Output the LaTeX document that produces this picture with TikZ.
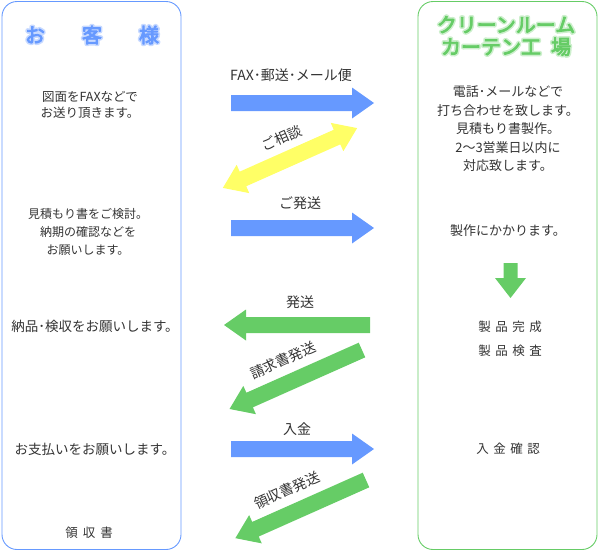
\documentclass[tikz,border=0pt]{standalone}
\usepackage{fontspec}
\setmainfont{Noto Sans CJK JP}
\usetikzlibrary{positioning}
\definecolor{custblue}{HTML}{6699FF}
\definecolor{custglow}{HTML}{C8DAFF}
\definecolor{factgreen}{HTML}{66CC66}
\definecolor{factglow}{HTML}{CDEFCD}
\definecolor{consult}{HTML}{FFFF66}
\definecolor{ink}{HTML}{333333}
% coloured title with a pale glow round the letters
\newcommand{\halotext}[3]{\leavevmode\rlap{\color{#1}\special{pdf:literal direct 2 Tr 4 w 1 j}#3\special{pdf:literal direct 0 Tr}}{\color{#2}\special{pdf:literal direct 2 Tr 0.8 w}#3\special{pdf:literal direct 0 Tr}}}
\tikzset{
  every node/.style={text=ink,font=\fontsize{12.5}{18}\selectfont},
  column/.style={draw,rounded corners=15pt,line width=0.9pt,minimum width=179pt,minimum height=548pt,inner sep=0pt},
  clientcol/.style={column,draw=custblue},
  factcol/.style={column,draw=factgreen},
  title/.style={font=\fontsize{20}{22}\selectfont,align=center,inner sep=0pt},
  txt/.style={align=center,inner sep=0pt},
  bigtxt/.style={txt,font=\fontsize{13.5}{19}\selectfont},
  facttxt/.style={txt,font=\fontsize{13}{18.5}\selectfont},
  lbl/.style={inner sep=0pt,font=\fontsize{14}{16}\selectfont},
  % block arrow from its tail: length / half shaft / half head / head length
  pics/flowarrow/.style args={#1/#2/#3/#4}{code={
    \fill[pic actions] (0,-#2) -- ({#1-#4},-#2) -- ({#1-#4},-#3) -- (#1,0) -- ({#1-#4},#3) -- ({#1-#4},#2) -- (0,#2) -- cycle;}},
  % two-headed block arrow round its middle
  pics/talkarrow/.style={code={
    \fill[pic actions] ({-#1/2},0) -- ({-#1/2+22},-15.5) -- ({-#1/2+22},-8) -- ({#1/2-22},-8) -- ({#1/2-22},-15.5) -- ({#1/2},0)
      -- ({#1/2-22},15.5) -- ({#1/2-22},8) -- ({-#1/2+22},8) -- ({-#1/2+22},15.5) -- cycle;}},
  sendarr/.style={fill=custblue},
  backarr/.style={fill=factgreen},
}
\begin{document}
\begin{tikzpicture}[x=1pt,y=-1pt]
\useasboundingbox (0,0) rectangle (599,552);

% columns
\node[clientcol] (client) at (91.5,275.5) {};
\node[factcol] (factory) at (507.5,275.5) {};
\node[title] (clienttitle) at (92,35) {\halotext{custglow}{custblue}{お\hspace{37pt}客\hspace{37pt}様}};
\node[title] (facttitle) at (506,36) {\halotext{factglow}{factgreen}{クリーンルーム}\\\halotext{factglow}{factgreen}{カーテン工\hspace{10pt}場}};

% customer side
\node[txt,font=\fontsize{12.5}{16.5}\selectfont] (faxtxt) at (90,105) {図面をFAXなどで\\お送り頂きます。};
\node[txt,font=\fontsize{12}{18}\selectfont] (reviewtxt) at (88,232) {見積もり書をご検討。\\納期の確認などを\\お願いします。};
\node[bigtxt] (inspecttxt) at (95,326) {納品･検収をお願いします。};
\node[bigtxt] (paytxt) at (95,449) {お支払いをお願いします。};
\node[txt] (receipttxt) at (89,533) {領\hspace{5pt}収\hspace{5pt}書};

% factory side
\node[facttxt] (phonetxt) at (508,129) {電話･メールなどで\\打ち合わせを致します。\\見積もり書製作。\\2〜3営業日以内に\\対応致します。};
\node[facttxt] (maketxt) at (508,231) {製作にかかります。};
\pic[backarr,rotate=-90] (makearr) at (510.5,263) {flowarrow=35/7/15.5/20};
\node[txt,font=\fontsize{12.5}{24}\selectfont] (donetxt) at (510,339) {製\hspace{4.5pt}品\hspace{4.5pt}完\hspace{4.5pt}成\\製\hspace{4.5pt}品\hspace{4.5pt}検\hspace{4.5pt}査};
\node[txt] (checktxt) at (508,449) {入\hspace{4.5pt}金\hspace{4.5pt}確\hspace{4.5pt}認};

% arrows between
\pic[sendarr] (faxarr) at (231,103) {flowarrow=143/8/15.5/22};
\node[lbl] (faxlbl) at (291,75) {FAX･郵送･メール便};
\pic[fill=consult,rotate=24] (consultarr) at (290,158) {talkarrow=147};
\node[lbl,rotate=24] (consultlbl) at (282,138) {ご相談};
\pic[sendarr] (shiparr) at (231,228) {flowarrow=143/8/15.5/22};
\node[lbl] (shiplbl) at (300,203) {ご発送};
\pic[backarr,rotate=180] (deliverarr) at (370,325) {flowarrow=146/8/15.5/22};
\node[lbl] (deliverlbl) at (300,302) {発送};
\pic[backarr,rotate=204] (billarr) at (362,350) {flowarrow=145/8/15.5/22};
\node[lbl,rotate=24] (billlbl) at (283,360) {請求書発送};
\pic[sendarr] (paidarr) at (231,449) {flowarrow=143/8/15.5/22};
\node[lbl] (paidlbl) at (297,429) {入金};
\pic[backarr,rotate=204] (receiptarr) at (366,480) {flowarrow=143/8/15.5/22};
\node[lbl,rotate=24] (receiptlbl) at (287,490) {領収書発送};

\end{tikzpicture}
\end{document}
